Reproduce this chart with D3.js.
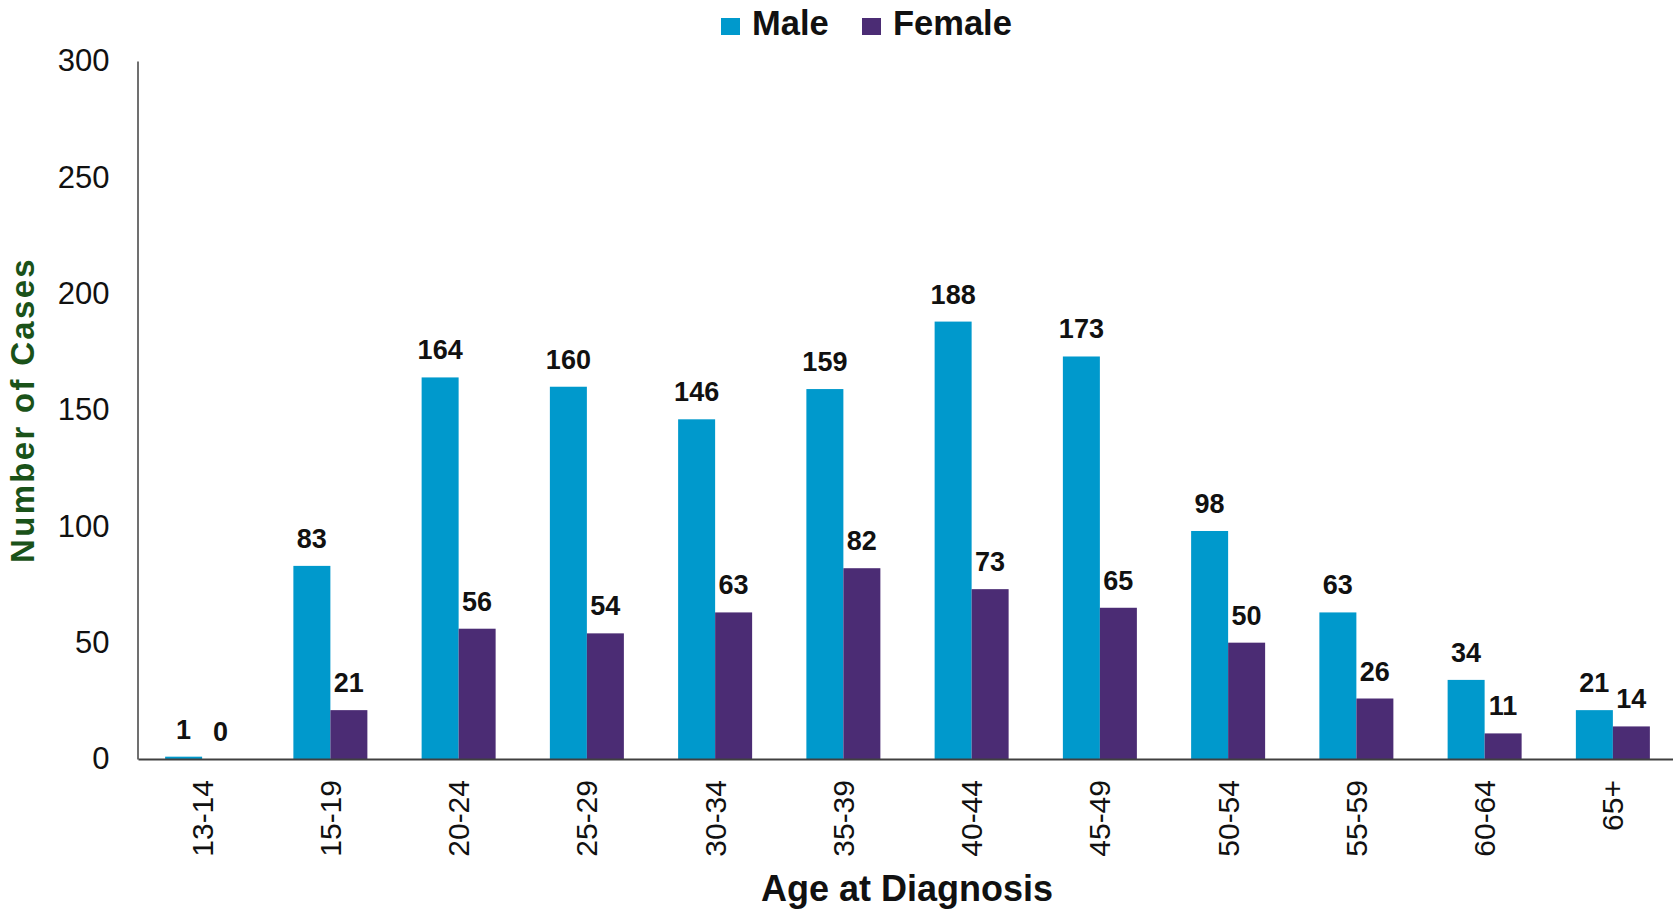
<!DOCTYPE html>
<html>
<head>
<meta charset="utf-8">
<script src="https://cdn.jsdelivr.net/npm/d3@7/dist/d3.min.js"></script>
<style>
  html, body { margin: 0; padding: 0; background: #ffffff; }
  svg { display: block; font-family: "Liberation Sans", Arial, sans-serif; }
</style>
</head>
<body>
<svg id="chart" width="1673" height="909"></svg>
<script>
// Age groups at diagnosis
const ageGroups = ["13-14", "15-19", "20-24", "25-29", "30-34", "35-39", "40-44", "45-49", "50-54", "55-59", "60-64", "65+"];
// Case counts by sex
const maleCases = [1, 83, 164, 160, 146, 159, 188, 173, 98, 63, 34, 21];
const femaleCases = [0, 21, 56, 54, 63, 82, 73, 65, 50, 26, 11, 14];
const seriesNames = ["Male", "Female"];
const seriesColors = ["#0099cc", "#4b2c74"];
const yTicks = [0, 50, 100, 150, 200, 250, 300];

const svg = d3.select("#chart");

const plot = { left: 138, right: 1677, top: 61, bottom: 759 };

const x = d3.scaleBand()
  .domain(ageGroups)
  .range([plot.left, plot.right])
  .paddingInner(0.423)
  .paddingOuter(0.2115);

const xSeries = d3.scaleBand()
  .domain(seriesNames)
  .range([0, x.bandwidth()]);

const y = d3.scaleLinear()
  .domain([0, 300])
  .range([plot.bottom, plot.top]);

const rows = ageGroups.map((g, i) => ({
  group: g,
  values: [
    { name: "Male", value: maleCases[i] },
    { name: "Female", value: femaleCases[i] }
  ]
}));
const color = d3.scaleOrdinal().domain(seriesNames).range(seriesColors);

// Bars
const groups = svg.append("g")
  .selectAll("g")
  .data(rows)
  .join("g")
  .attr("transform", d => `translate(${x(d.group)},0)`);

groups.selectAll("rect")
  .data(d => d.values)
  .join("rect")
  .attr("x", d => xSeries(d.name))
  .attr("y", d => y(d.value))
  .attr("width", xSeries.bandwidth())
  .attr("height", d => y(0) - y(d.value))
  .attr("fill", d => color(d.name));

// Value labels
groups.selectAll("text")
  .data(d => d.values)
  .join("text")
  .attr("x", d => xSeries(d.name) + xSeries.bandwidth() / 2)
  .attr("y", d => y(d.value) - 18)
  .attr("text-anchor", "middle")
  .attr("font-size", 27)
  .attr("font-weight", "bold")
  .attr("fill", "#111")
  .text(d => d.value);

// Y axis
const yAxis = svg.append("g")
  .attr("transform", `translate(${plot.left - 0.5},0)`)
  .call(d3.axisLeft(y).tickValues(yTicks).tickSize(0).tickPadding(28));
yAxis.select(".domain").attr("stroke", "#404040").attr("stroke-width", 1.5);
yAxis.selectAll("text")
  .attr("font-size", 31)
  .attr("fill", "#111")
  .attr("font-family", "Liberation Sans, Arial, sans-serif");

// X axis
const xAxis = svg.append("g")
  .attr("transform", `translate(0,${plot.bottom})`)
  .call(d3.axisBottom(x).tickSize(0).tickPadding(0));
xAxis.select(".domain").attr("stroke", "#404040").attr("stroke-width", 2);
xAxis.selectAll("text")
  .attr("font-size", 30)
  .attr("fill", "#111")
  .attr("font-family", "Liberation Sans, Arial, sans-serif")
  .attr("text-anchor", "end")
  .attr("transform", "rotate(-90)")
  .attr("x", -21)
  .attr("y", 0)
  .attr("dy", "0.35em");

// Axis titles
svg.append("text")
  .attr("transform", "translate(34,410) rotate(-90)")
  .attr("text-anchor", "middle")
  .attr("font-size", 33)
  .attr("font-weight", "bold")
  .attr("letter-spacing", 2.3)
  .attr("fill", "#1a5219")
  .text("Number of Cases");

svg.append("text")
  .attr("x", 907)
  .attr("y", 901)
  .attr("text-anchor", "middle")
  .attr("font-size", 36)
  .attr("font-weight", "bold")
  .attr("fill", "#111")
  .text("Age at Diagnosis");

// Legend
const legendPos = [721, 862];
const legend = svg.append("g")
  .selectAll("g")
  .data(seriesNames)
  .join("g")
  .attr("transform", (d, i) => `translate(${legendPos[i]},0)`);
legend.append("rect")
  .attr("x", 0)
  .attr("y", 18)
  .attr("width", 19)
  .attr("height", 17)
  .attr("fill", d => color(d));
legend.append("text")
  .attr("x", 31)
  .attr("y", 35)
  .attr("font-size", 34.5)
  .attr("font-weight", "bold")
  .attr("fill", "#111")
  .text(d => d);
</script>
</body>
</html>
